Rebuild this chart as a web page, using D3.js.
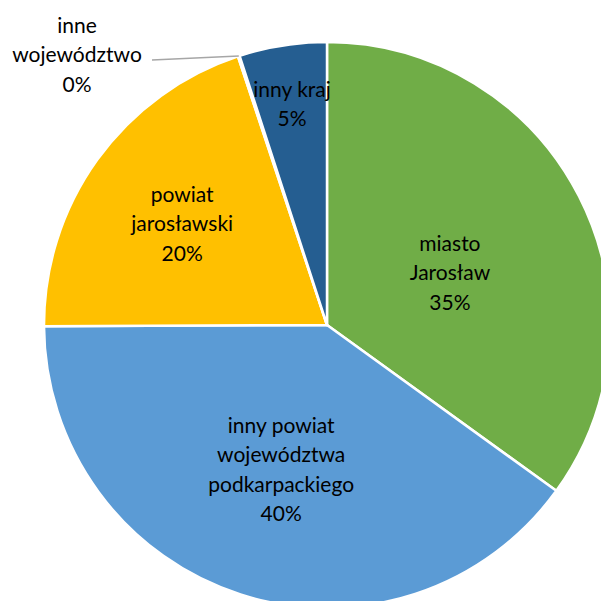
<!DOCTYPE html>
<html lang="pl">
<head>
<meta charset="UTF-8">
<title>Pie chart</title>
<script src="https://d3js.org/d3.v7.min.js"></script>
<style>
  body { margin: 0; background: #fff; }
  text { font-family: Lato, "Open Sans", sans-serif; font-size: 21px; fill: #000; }
</style>
</head>
<body>
<div id="chart"></div>
<script>
// data, clockwise from 12 o'clock
const categories = ["miasto Jarosław", "inny powiat województwa podkarpackiego", "powiat jarosławski", "inne województwo", "inny kraj"];
const labelLines = [
  ["miasto", "Jarosław"],
  ["inny powiat", "województwa", "podkarpackiego"],
  ["powiat", "jarosławski"],
  ["inne", "województwo"],
  ["inny kraj"]
];
const values = [35, 40, 20, 0.1, 5];
const colors = ["#70AD47", "#5B9BD5", "#FFC000", "#A5A5A5", "#255E91"];

const W = 601, H = 601;
const cx = 327, cy = 325, R = 283;
// label distance from centre, as fraction of radius (null = outside label)
const labelR = [0.46, 0.53, 0.63, null, 0.79];
const labelShift = [[7, 7], [0, 2], [0, 3], [0, 0], [0, 0]];

const svg = d3.select("#chart").append("svg")
  .attr("width", W).attr("height", H);

const g = svg.append("g").attr("transform", `translate(${cx},${cy})`);

const total = d3.sum(values);
const pie = d3.pie().sort(null).value(d => d)(values);
const arc = d3.arc().innerRadius(0).outerRadius(R);

g.selectAll("path.slice")
  .data(pie)
  .join("path")
  .attr("class", "slice")
  .attr("d", arc)
  .attr("fill", (d, i) => colors[i])
  .attr("stroke", "#fff")
  .attr("stroke-width", 2.5)
  .attr("stroke-linejoin", "round");

const pct = v => Math.round(v / total * 100) + "%";
const lh = 29.5;

pie.forEach((d, i) => {
  const lines = labelLines[i].concat([pct(values[i])]);
  let x, y;
  if (labelR[i] !== null) {
    const a = d3.arc().innerRadius(R * labelR[i]).outerRadius(R * labelR[i]);
    [x, y] = a.centroid(d);
    x += labelShift[i][0];
    y += labelShift[i][1];
  } else {
    // outside label with a leader line
    x = 77 - cx; y = 55 - cy;
    const ang = (d.startAngle + d.endAngle) / 2;
    g.append("line")
      .attr("x1", 152 - cx).attr("y1", 60 - cy)
      .attr("x2", R * Math.sin(ang)).attr("y2", -R * Math.cos(ang))
      .attr("stroke", "#A6A6A6").attr("stroke-width", 1.5);
  }
  const t = g.append("text").attr("text-anchor", "middle");
  lines.forEach((s, k) => {
    t.append("tspan")
      .attr("x", x)
      .attr("y", y + (k - (lines.length - 1) / 2) * lh)
      .attr("dy", "0.35em")
      .text(s);
  });
});
</script>
</body>
</html>
